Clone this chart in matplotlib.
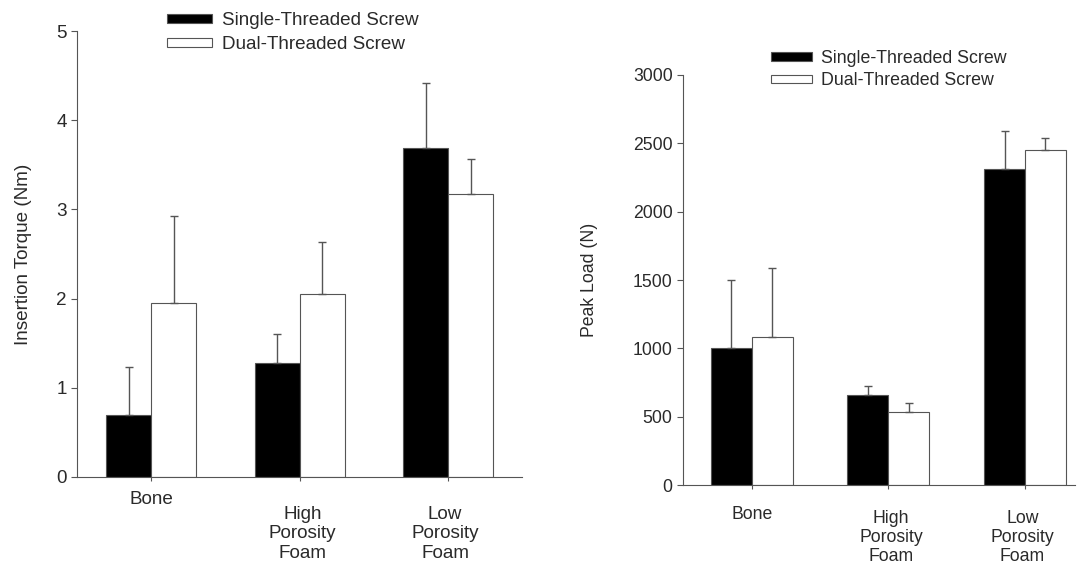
import numpy as np
import matplotlib.pyplot as plt

plt.rcParams['font.family'] = ['Liberation Sans', 'DejaVu Sans']

groups = ['Bone', 'High\nPorosity\nFoam', 'Low\nPorosity\nFoam']
series = ['Single-Threaded Screw', 'Dual-Threaded Screw']

# insertion torque (Nm): means and upper error (sd)
torque_single = [0.70, 1.28, 3.69]
torque_single_err = [0.53, 0.32, 0.73]
torque_dual = [1.95, 2.05, 3.17]
torque_dual_err = [0.98, 0.58, 0.39]

# peak load (N)
load_single = [1000, 660, 2310]
load_single_err = [500, 65, 280]
load_dual = [1085, 535, 2450]
load_dual_err = [505, 65, 90]

gray = '#555555'
txt = '#2a2a2a'

fig = plt.figure(figsize=(10.82, 5.69), dpi=100)
ax1 = fig.add_axes([0.0712, 0.1617, 0.4113, 0.7838])
ax2 = fig.add_axes([0.6312, 0.1476, 0.3623, 0.7206])


def draw(ax, single, single_err, dual, dual_err, width, xlim, ylim, yticks, ylabel,
         fs, dy_first, dy_rest, lsp):
    x = np.arange(len(groups))
    ekw = dict(ecolor=gray, elinewidth=1, capsize=3, capthick=1)
    ax.bar(x - width / 2, single, width, color='black', edgecolor=gray, linewidth=0.8,
           yerr=[np.zeros(3), single_err], error_kw=ekw, label=series[0])
    ax.bar(x + width / 2, dual, width, color='white', edgecolor=gray, linewidth=0.8,
           yerr=[np.zeros(3), dual_err], error_kw=ekw, label=series[1])
    ax.set_xlim(*xlim)
    ax.set_ylim(*ylim)
    ax.set_yticks(yticks)
    ax.set_xticks(x)
    ax.set_xticklabels([''] * 3)
    for s in ['top', 'right']:
        ax.spines[s].set_visible(False)
    for s in ['left', 'bottom']:
        ax.spines[s].set_color(gray)
    ax.tick_params(axis='both', colors=gray, labelcolor=txt, labelsize=fs, length=4, direction='out')
    ax.tick_params(axis='x', length=3)
    ax.set_ylabel(ylabel, fontsize=fs, color=txt)
    # staggered category labels
    trans = ax.get_xaxis_transform()
    shift = [0, 0.02, -0.02]
    for i, g in enumerate(groups):
        dy = dy_first if i == 0 else dy_rest
        ax.text(x[i] + shift[i], dy, g, transform=trans, ha='center', va='top',
                fontsize=fs, color=txt, linespacing=lsp)


draw(ax1, torque_single, torque_single_err, torque_dual, torque_dual_err, 0.303,
     (-0.498, 2.498), (0, 5), range(0, 6), 'Insertion Torque (Nm)', 13.6, -0.031, -0.065, 1.18)
draw(ax2, load_single, load_single_err, load_dual, load_dual_err, 0.30,
     (-0.505, 2.366), (0, 3000), range(0, 3001, 500), 'Peak Load (N)', 12.7, -0.051, -0.061, 1.16)

ax1.yaxis.set_label_coords(-0.101, 0.5)
ax2.yaxis.set_label_coords(-0.217, 0.5)

leg1 = ax1.legend(loc='upper left', bbox_to_anchor=(0.18, 1.063), frameon=False, fontsize=13.6,
                  handlelength=2.4, handleheight=0.37, labelspacing=0.35, borderpad=0, handletextpad=0.53)
leg2 = ax2.legend(loc='upper left', bbox_to_anchor=(0.2015, 1.083), frameon=False, fontsize=12.8,
                  handlelength=2.3, handleheight=0.34, labelspacing=0.3, borderpad=0, handletextpad=0.5)
for leg in (leg1, leg2):
    for t in leg.get_texts():
        t.set_color(txt)

fig.savefig('out.png', dpi=100)
